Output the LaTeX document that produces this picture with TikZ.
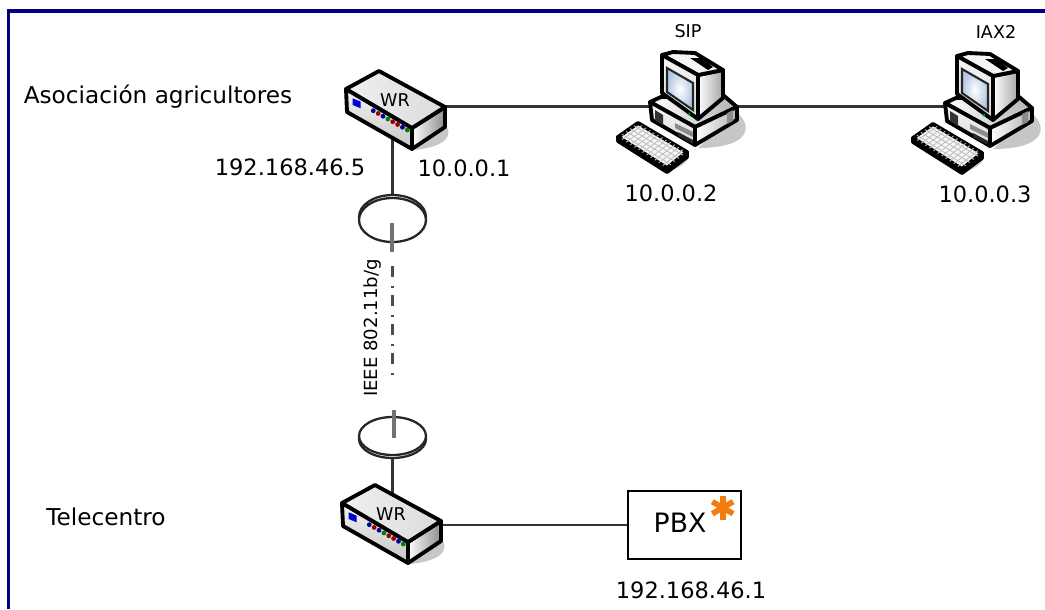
\documentclass[tikz,border=0pt]{standalone}
\usepackage{fontspec}
\setmainfont{DejaVu Sans}
\usetikzlibrary{calc, positioning, shapes}
\definecolor{frameblue}{HTML}{000080}
\definecolor{pbxorange}{HTML}{F57A10}
\definecolor{screenblue}{HTML}{B4C6E4}
\tikzstyle{big text}=[inner sep=0pt, font=\fontsize{12.8}{14}\selectfont]
\tikzstyle{name text}=[inner sep=0pt, font=\fontsize{13.2}{15}\selectfont]
\tikzstyle{small text}=[inner sep=0pt, font=\fontsize{10}{12}\selectfont]
\tikzstyle{device}=[inner sep=0pt, minimum height=1.2cm]
\tikzstyle{router node}=[device, minimum width=2.12cm]
\tikzstyle{computer node}=[device, minimum width=1.72cm]
\tikzstyle{dish}=[ellipse, draw=black!85, fill=white, line width=1.3pt, inner sep=0pt, minimum width=1.34cm]
\tikzstyle{link}=[draw=black!80, line width=1.3pt]
\tikzstyle{mast}=[draw=black!55, line width=2pt]
\tikzstyle{outline}=[draw=black, line width=2.2pt, line join=round]
\tikzset{
  router/.pic={
    % shadow
    \fill[black!22] (50,14) .. controls (58,24) and (54,36) .. (20,40) -- cycle;
    % faces
    \shade[outline, left color=white, right color=black!45] (17,18) -- (50,-3) -- (50,17) -- (17,39) -- cycle;
    \shade[outline, top color=black!5, bottom color=black!22] (-49,-21) -- (17,18) -- (17,39) -- (-48,2) -- cycle;
    \shade[outline, left color=black!6, right color=black!14] (-49,-21) -- (-16,-39) -- (50,-3) -- (17,18) -- cycle;
    \fill[blue!85!black] (-42.3,-11.7) -- (-34.3,-8.3) -- (-34.3,-1.7) -- (-42.3,-5) -- cycle;
    % leds
    \foreach \i/\c in {0/blue!60!black,1/red!60!black,2/blue!60!black,3/green!50!black,4/red!60!black,5/red!60!black,6/blue!60!black,7/green!50!black}
    \fill[\c] ({-21.7+4.86*\i},{0.7+2.76*\i}) circle (2.4);
  },
  computer/.pic={
    % shadows
    \fill[black!22] (40,5) .. controls (58,18) and (58,42) .. (3,42) -- cycle;
    \fill[black!18] (-8,46) .. controls (-2,54) and (-14,62) .. (-28,66) -- cycle;
    % base
    \shade[outline, left color=white, right color=black!30] (-45,-4) -- (-34,-9) -- (28,-11) -- (42,1) -- (0,21) -- cycle;
    \shade[outline, top color=black!3, bottom color=black!15] (-45,-4) -- (0,21) -- (0,39) -- (-43,14) -- cycle;
    \shade[outline, left color=white, right color=black!30] (0,21) -- (42,1) -- (42,14) -- (0,39) -- cycle;
    \fill[black!80] (-40,4) -- (-32,9) -- (-32,19) -- (-40,14) -- cycle;
    \fill[black!45] (32,7) -- (38,4) -- (38,15) -- (32,18) -- cycle;
    \fill[black!45] (-20,17) -- (-2,26) -- (-2,31) -- (-20,22) -- cycle;
    \fill[black!85] (-17,26) -- (-2,34) -- (-2,38) -- (-17,30) -- cycle;
    % monitor
    \shade[outline, left color=white, right color=black!35] (3,-31) -- (28,-36) -- (28,-8) -- (3,13) -- cycle;
    \fill[outline, fill=black!4] (-33,-51) -- (-22,-54) -- (0,-53) -- (28,-36) -- (3,-31) -- cycle;
    \fill[black] (-5,-48) -- (7,-48) -- (18,-39) -- (13,-36) -- cycle;
    \shade[outline, top color=black!3, bottom color=black!15] (-33,-51) -- (3,-31) -- (3,13) -- (-33,-13) -- cycle;
    \shade[draw=black!85, line width=1.2pt, inner color=white, outer color=screenblue] (-28,-38) -- (-2,-23) -- (-2,4) -- (-28,-14) -- cycle;
    \fill[green!50!black] (-6,8) circle (1.6);
    % keyboard
    \fill[outline, fill=black!40] (-77,31) -- (-77,35) -- (-28,66) -- (-8,51) -- (-8,46) -- (-28,62) -- cycle;
    \fill[outline, fill=black!3] (-77,31) -- (-57,17) -- (-8,46) -- (-28,62) -- cycle;
    \foreach \i in {1,...,4}
    \draw[black!25, line width=.5pt] ({-77+20*\i/5},{31-14*\i/5}) -- ({-28+20*\i/5},{62-16*\i/5});
    \foreach \j in {1,...,11}
    \draw[black!25, line width=.5pt] ({-77+49*\j/12},{31+31*\j/12}) -- ({-57+49*\j/12},{17+29*\j/12});
  }
}

\begin{document}
\begin{tikzpicture}[x=0.02cm, y=-0.02cm]
	\useasboundingbox (0,0) rectangle (1045,609);

	% Frame of the window
	\fill[frameblue] (7,9) rectangle (1045,12.5);
	\fill[frameblue] (7,9) rectangle (10,609);

	% Anchor nodes of the devices
	\node[router node] (WR-1) at (392.5,106.5) {};
	\node[router node, minimum width=1.92cm] (WR-2) at (392.5,525) {};
	\node[computer node] (SIP) at (693.5,106.5) {};
	\node[computer node] (IAX) at (988.5,106.5) {};

	% Antennas
	\node[dish, minimum height=.88cm] (AN-1-back) at (392.5,217) {};
	\node[dish, minimum height=.88cm] (AN-1) at (392.5,220) {};
	\node[dish, minimum height=.76cm] (AN-2-back) at (392.5,439) {};
	\node[dish, minimum height=.76cm] (AN-2) at (392.5,436) {};
	\draw[mast] (392,223) -- (392,252);
	\draw[mast] (394,410) -- (394,438);

	% PBX box
	\node[draw=black, line width=1.3pt, fill=white, minimum width=2.25cm, minimum height=1.36cm, inner sep=0pt] (PBX) at (684.5,525) {};
	\node[inner sep=0pt, font=\fontsize{15.2}{17}\selectfont] (PBX-text) at (680,523) {PBX};
	\foreach \a in {30,90,150}
	\draw[pbxorange, line width=3.2pt] ($(722.7,507.7)+(\a:12)$) -- ($(722.7,507.7)+(\a+180:12)$);

	% Connect the devices
	\path[link] (WR-1.east) -- (SIP.west);
	\path[link] (SIP.east) -- (IAX.west);
	\path[link] (WR-1.south) -- (AN-1-back.north);
	\path[link] (AN-2-back.south) -- (WR-2.north);
	\path[link] (WR-2.east) -- (PBX.west);

	% Radio link
	\coordinate (air-1) at (392.5,266);
	\coordinate (air-2) at (392.5,380.5);
	\draw[black!70, line width=1.3pt, dash pattern=on 6.5pt off 5.1pt on .85pt off 4pt] (air-1) -- (air-2);

	% Draw the icons
	\pic at (395,110) {router};
	\pic at (391,524) {router};
	\pic at (695,106) {computer};
	\pic at (990,107) {computer};
	\node[small text] (WR-1-text) at (395,100) {WR};
	\node[small text] (WR-2-text) at (391,514) {WR};

	% Labels
	\node[small text] (SIP-text) at (688,31.5) {SIP};
	\node[small text] (IAX-text) at (996,32) {IAX2};
	\node[small text, font=\fontsize{10.3}{12}\selectfont, rotate=90] (radio) at (373,328) {IEEE 802.11b/g};
	\node[name text] (asoc) at (158,97) {Asociación agricultores};
	\node[name text] (tele) at (106,517) {Telecentro};
	\node[big text] (ip-1) at (290,167) {192.168.46.5};
	\node[big text] (ip-2) at (464,168) {10.0.0.1};
	\node[big text] (ip-3) at (671,193) {10.0.0.2};
	\node[big text] (ip-4) at (985,194) {10.0.0.3};
	\node[big text] (ip-5) at (691,590) {192.168.46.1};
\end{tikzpicture}
\end{document}
